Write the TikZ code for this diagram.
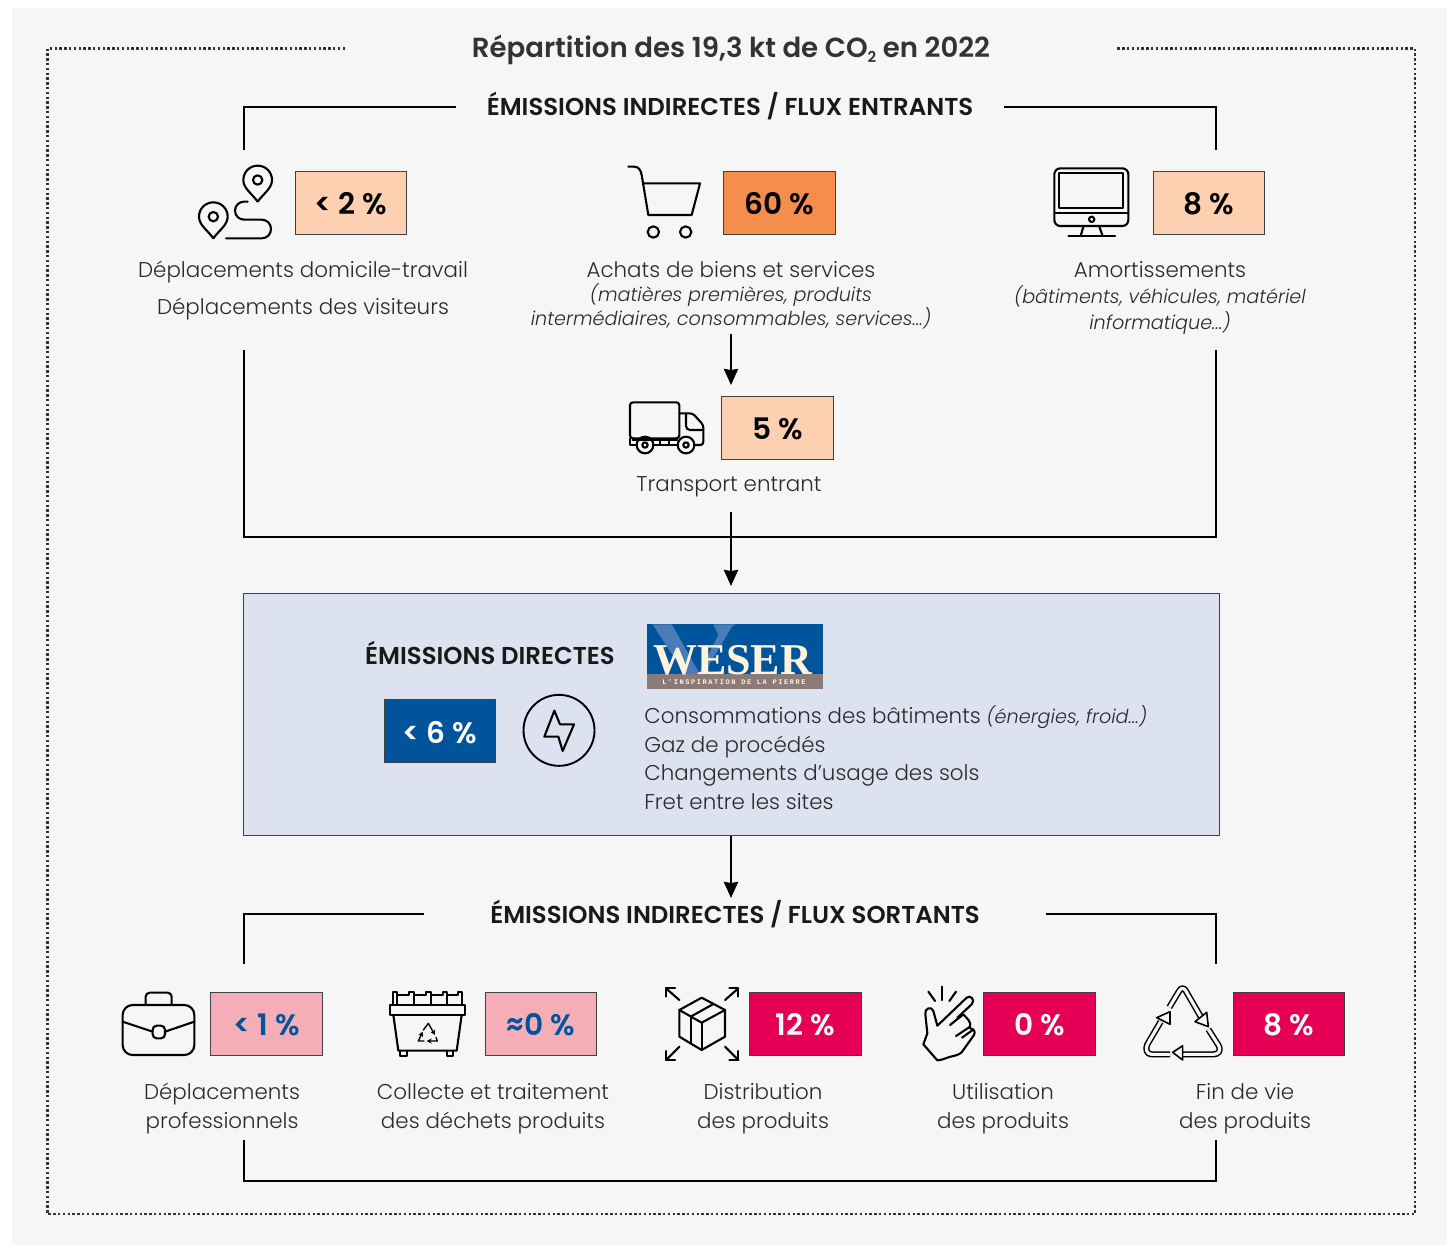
\documentclass[tikz,border=0pt]{standalone}
\usepackage{fontspec}
\usetikzlibrary{arrows.meta}
\setmainfont{Poppins}[UprightFont=* Light,BoldFont=* SemiBold,ItalicFont=* Light Italic,BoldItalicFont=* SemiBold Italic]
\newfontfamily\logoserif{Liberation Serif}
\newfontfamily\logomono{Liberation Mono}[LetterSpace=22]
\definecolor{panel}{HTML}{F6F6F6}
\definecolor{lightor}{HTML}{FCD0B0}
\definecolor{orangeb}{HTML}{F58D4C}
\definecolor{blueb}{HTML}{00549B}
\definecolor{pinkb}{HTML}{F5AEB8}
\definecolor{redb}{HTML}{E50056}
\definecolor{directb}{HTML}{DCE2F0}
\definecolor{txt}{HTML}{2A2A2A}
\definecolor{logow}{HTML}{4A7CB8}
\definecolor{logoband}{HTML}{8A7B78}
\definecolor{logocream}{HTML}{FFF3DC}
\tikzset{
  zoomed/.style 2 args={shift={(#1,#2)},x=0.166667pt,y=-0.166667pt},
  conn/.style={line width=1.35pt,black},
  arr/.style={conn,-{Stealth[length=8pt,width=7pt,inset=0.5pt]}},
  ico/.style={line width=1.05pt,black,line cap=round,line join=round},
  pct/.style={draw=black!75,line width=0.5pt,minimum width=55.7pt,minimum height=31.5pt,inner sep=0pt,text height=12pt,text depth=0pt,font=\fontsize{14.8}{16}\selectfont\bfseries},
  body/.style={anchor=base,inner sep=0pt,text=txt,font=\fontsize{10.7}{12}\selectfont},
  ital/.style={anchor=base,inner sep=0pt,text=txt,font=\fontsize{9.6}{11}\selectfont\itshape},
  head/.style={anchor=base,inner sep=0pt,text=black!90,font=\fontsize{12.2}{14}\selectfont\bfseries},
  listt/.style={body,anchor=base west},
}
\begin{document}
\begin{tikzpicture}[x=0.5pt,y=-0.5pt]
\useasboundingbox (0,0) rectangle (1455,1247);
\fill[white] (0,0) rectangle (1455,1247);
\fill[panel] (12,8) rectangle (1447,1245);
% dotted frame
\coordinate (fa) at (345,48.5); \coordinate (fb) at (47.5,48.5); \coordinate (fc) at (47.5,1214);
\coordinate (fd) at (1415,1214); \coordinate (fe) at (1415,48.5); \coordinate (ff) at (1116,48.5);
\draw[line width=1.2pt,black!80,dash pattern=on 1.2pt off 1.2pt] (fa)--(fb)--(fc)--(fd)--(fe)--(ff);
\node[anchor=base,inner sep=0pt,text=black!80,font=\fontsize{13.8}{15}\selectfont\bfseries] (title) at (731,58) {Répartition des 19,3 kt de CO\raisebox{-2.5pt}{\fontsize{7.5}{8}\selectfont 2} en 2022};
% headings
\node[head] (h1) at (730,116) {ÉMISSIONS INDIRECTES / FLUX ENTRANTS};
\node[head] (h3) at (735,923) {ÉMISSIONS INDIRECTES / FLUX SORTANTS};
% brackets
\coordinate (a1) at (244,150); \coordinate (a2) at (244,107); \coordinate (a3) at (456,107);
\coordinate (a4) at (1004,107); \coordinate (a5) at (1216,107); \coordinate (a6) at (1216,150);
\draw[conn] (a1)--(a2)--(a3); \draw[conn] (a4)--(a5)--(a6);
\coordinate (b1) at (244,350); \coordinate (b2) at (244,537); \coordinate (b3) at (1216,537); \coordinate (b4) at (1216,350);
\draw[conn] (b1)--(b2)--(b3)--(b4);
\coordinate (c1) at (244,964); \coordinate (c2) at (244,914); \coordinate (c3) at (424,914);
\coordinate (c4) at (1046,914); \coordinate (c5) at (1216,914); \coordinate (c6) at (1216,964);
\draw[conn] (c1)--(c2)--(c3); \draw[conn] (c4)--(c5)--(c6);
\coordinate (d1) at (244,1140); \coordinate (d2) at (244,1181); \coordinate (d3) at (1216,1181); \coordinate (d4) at (1216,1140);
\draw[conn] (d1)--(d2)--(d3)--(d4);
% central panel
\node[draw=black!75,line width=0.5pt,fill=directb,minimum width=488pt,minimum height=121pt,inner sep=0pt] (direct) at (731,714) {};
\node[head] (h2) at (490,664) {ÉMISSIONS DIRECTES};
% arrows
\coordinate (e1) at (731,334); \coordinate (e2) at (731,385);
\coordinate (e3) at (731,512); \coordinate (e4) at (731,586);
\coordinate (e5) at (731,836); \coordinate (e6) at (731,898);
\draw[arr] (e1)--(e2); \draw[arr] (e3)--(e4); \draw[arr] (e5)--(e6);
% percent boxes
\node[pct,fill=lightor] (p1) at (351,202.5) {< 2 \%};
\node[pct,fill=orangeb] (p2) at (779.5,202.5) {60 \%};
\node[pct,fill=lightor] (p3) at (1209,202.5) {8 \%};
\node[pct,fill=lightor] (p4) at (777.5,427.5) {5 \%};
\node[pct,fill=blueb,text=white] (p5) at (440,731) {< 6 \%};
\node[pct,fill=pinkb,text=blueb] (p6) at (266.5,1023.5) {< 1 \%};
\node[pct,fill=pinkb,text=blueb] (p7) at (541,1023.5) {≈0 \%};
\node[pct,fill=redb,text=white] (p8) at (805.5,1023.5) {12 \%};
\node[pct,fill=redb,text=white] (p9) at (1039.5,1023.5) {0 \%};
\node[pct,fill=redb,text=white] (p10) at (1289,1023.5) {8 \%};
% texts
\node[body] (t1) at (303,277) {Déplacements domicile-travail};
\node[body] (t2) at (303,314) {Déplacements des visiteurs};
\node[body] (t3) at (731,277) {Achats de biens et services};
\node[ital] (t4) at (731,301) {(matières premières, produits};
\node[ital] (t5) at (731,325) {intermédiaires, consommables, services...)};
\node[body] (t6) at (1160,277) {Amortissements};
\node[ital] (t7) at (1160,303) {(bâtiments, véhicules, matériel};
\node[ital] (t8) at (1160,329) {informatique...)};
\node[body] (t9) at (729,491) {Transport entrant};
\node[listt] (l1) at (644,723) {Consommations des bâtiments {\fontsize{9.6}{11}\selectfont\itshape (énergies, froid...)}};
\node[listt] (l2) at (644,752) {Gaz de procédés};
\node[listt] (l3) at (644,780) {Changements d\char39 usage des sols};
\node[listt] (l4) at (644,809) {Fret entre les sites};
\node[body] (u1) at (222,1099) {Déplacements};
\node[body] (u2) at (222,1128) {professionnels};
\node[body] (u3) at (493,1099) {Collecte et traitement};
\node[body] (u4) at (493,1128) {des déchets produits};
\node[body] (u5) at (763,1099) {Distribution};
\node[body] (u6) at (763,1128) {des produits};
\node[body] (u7) at (1003,1099) {Utilisation};
\node[body] (u8) at (1003,1128) {des produits};
\node[body] (u9) at (1245,1099) {Fin de vie};
\node[body] (u10) at (1245,1128) {des produits};
% logo
\fill[blueb] (647,624) rectangle (823,689);
\begin{scope}[zoomed={370}{615}]
\fill[logow] (848,28)--(905,28)--(990,178)--(945,178)--cycle;
\fill[logow] (1030,28)--(1095,28)--(1085,36)--(1000,178)--(985,178)--(1045,60)--cycle;
\end{scope}
\fill[logoband] (647,674) rectangle (823,689);
\node[anchor=base,inner sep=0pt,text=logocream,font=\logoserif\bfseries\fontsize{22}{24}\selectfont] (lg) at (732.5,674) {WESER};
\node[inner sep=0pt,text=logocream,font=\logomono\bfseries\fontsize{3.5}{4}\selectfont] (lg2) at (734,682) {L\char39 INSPIRATION DE LA PIERRE};
% pins
\begin{scope}[zoomed={180}{150},ico]
\draw (233,155) .. controls (215,130) and (190,115) .. (190,90) .. controls (190,66) and (209,47) .. (233,47) .. controls (257,47) and (276,66) .. (276,90) .. controls (276,115) and (251,130) .. (233,155);
\draw (233,90) circle (14);
\draw (100,265) .. controls (82,240) and (57,225) .. (57,200) .. controls (57,176) and (76,157) .. (100,157) .. controls (124,157) and (143,176) .. (143,200) .. controls (143,225) and (118,240) .. (100,265);
\draw (100,200) circle (14);
\draw (203,155) -- (192,155) .. controls (177,155) and (165,167) .. (165,182) .. controls (165,197) and (177,209) .. (192,209) -- (245,209) .. controls (261,209) and (273,221) .. (273,237) .. controls (273,253) and (261,265) .. (245,265) -- (138,265);
\end{scope}
% cart
\begin{scope}[zoomed={620}{150},ico]
\draw (25,50) -- (42,50) .. controls (58,50) and (62,62) .. (65,75) -- (85,195) -- (215,195) -- (240,100) -- (72,100);
\draw (100,246) circle (17); \draw (197,246) circle (17);
\end{scope}
% monitor
\begin{scope}[zoomed={1040}{150},ico]
\draw[rounded corners=3pt] (43,55) rectangle (265,228);
\draw (57,70) rectangle (250,175);
\draw (43,190) -- (265,190);
\draw (155,208) circle (8);
\draw (130,230) -- (122,258); \draw (178,230) -- (188,258);
\draw (85,258) -- (225,258);
\end{scope}
% truck
\begin{scope}[zoomed={620}{390},ico]
\draw[rounded corners=1.5pt] (30,145) -- (30,37) -- (178,37) -- (178,145) -- cycle;
\draw[rounded corners=1.5pt] (178,70) -- (218,70) -- (250,105) -- (250,165) -- (225,165);
\draw[rounded corners=2pt] (198,70) -- (198,120) -- (250,120);
\draw (30,145) -- (30,165) -- (48,165);
\draw (38,150) -- (172,150); \draw (102,165) -- (172,165);
\draw (120,150) -- (120,165); \draw (146,150) -- (146,165);
\draw (75,165) circle (25); \draw (75,165) circle (8);
\draw (198,165) circle (25); \draw (198,165) circle (8);
\end{scope}
% lightning
\begin{scope}[zoomed={370}{615},ico]
\node[draw,circle,minimum size=35.5pt,inner sep=0pt,line width=0.95pt] (bolt) at (567,346) {};
\draw (553,287) -- (570,328) -- (612,328) -- (578,408) -- (565,365) -- (523,365) -- cycle;
\end{scope}
% briefcase and bin
\begin{scope}[zoomed={110}{980},ico]
\draw[rounded corners=5pt] (38,75) rectangle (253,225);
\draw[rounded corners=2pt] (107,72) -- (107,38) -- (185,38) -- (185,72);
\draw[rounded corners=2pt] (128,137) rectangle (165,175);
\draw (38,125) -- (128,155); \draw (165,155) -- (253,125);
% bin
\draw (840,75) rectangle (1065,105);
\draw (850,75) -- (850,35) -- (862,35) -- (862,45) -- (898,45) -- (898,35) -- (912,35) -- (912,45) -- (948,45) -- (948,35) -- (962,35) -- (962,45) -- (998,45) -- (998,35) -- (1012,35) -- (1012,45) -- (1045,45) -- (1045,35) -- (1055,35) -- (1055,75);
\draw (862,45) -- (862,75); \draw (912,45) -- (912,75); \draw (962,45) -- (962,75); \draw (1012,45) -- (1012,75);
\draw (850,105) -- (865,212) -- (1040,212) -- (1055,105);
\draw (870,212) -- (870,228) -- (890,228) -- (890,212);
\draw (1010,212) -- (1010,228) -- (1030,228) -- (1030,212);
\begin{scope}[line width=0.7pt]
\draw[-{Stealth[length=2.5pt,width=2.5pt]}] (940,150) -- (955,130) -- (975,165);
\draw[-{Stealth[length=2.5pt,width=2.5pt]}] (978,172) -- (982,183) -- (950,183);
\draw[-{Stealth[length=2.5pt,width=2.5pt]}] (942,183) -- (925,183) -- (938,155);
\end{scope}
\end{scope}
% box with arrows and hand
\begin{scope}[zoomed={650}{975},ico]
\draw (155,68) -- (225,105) -- (225,185) -- (155,225) -- (88,185) -- (88,105) -- cycle;
\draw (88,105) -- (155,143) -- (225,105); \draw (155,143) -- (155,225);
\draw (122,125) -- (190,87); \draw (122,125) -- (122,205);
\draw (48,40) -- (88,75); \draw (48,65) -- (48,40) -- (75,40);
\draw (225,75) -- (265,40); \draw (238,40) -- (265,40) -- (265,65);
\draw (88,215) -- (48,255); \draw (48,228) -- (48,255) -- (75,255);
\draw (225,215) -- (265,255); \draw (238,255) -- (265,255) -- (265,228);
% hand
\draw (875,35) -- (875,75); \draw (835,50) -- (855,78); \draw (918,50) -- (898,78);
\draw (862,152) -- (950,68) .. controls (960,58) and (978,75) .. (965,88) -- (922,128);
\draw (862,152) -- (850,108) .. controls (845,92) and (822,100) .. (826,118) -- (832,175) -- (820,208) -- (862,256) .. controls (880,255) and (895,245) .. (910,243) .. controls (925,240) and (935,235) .. (942,222) -- (972,180) .. controls (978,170) and (970,160) .. (960,160);
\draw (900,150) -- (940,118) .. controls (950,130) and (965,140) .. (960,155) -- (918,183);
\draw (936,188) -- (968,165);
\end{scope}
% recycling
\begin{scope}[zoomed={1130}{975}]
\tikzset{rc/.style={line width=0.75pt,draw=black,double=panel,double distance=1.6pt,line join=round}}
\draw[rc] (118,97) -- (148,47) .. controls (153,38) and (162,38) .. (167,47) -- (215,130);
\draw[rc] (235,163) -- (265,210) .. controls (275,228) and (265,238) .. (250,238) -- (158,238);
\draw[rc] (120,238) -- (65,238) .. controls (50,238) and (45,222) .. (52,208) -- (92,140);
\fill[panel,draw=black,line width=0.8pt,line join=round] (195,140) -- (235,155) -- (230,112) -- cycle;
\fill[panel,draw=black,line width=0.8pt,line join=round] (158,212) -- (128,232) -- (158,255) -- cycle;
\fill[panel,draw=black,line width=0.8pt,line join=round] (80,128) -- (120,110) -- (120,148) -- cycle;
\end{scope}
\end{tikzpicture}
\end{document}
